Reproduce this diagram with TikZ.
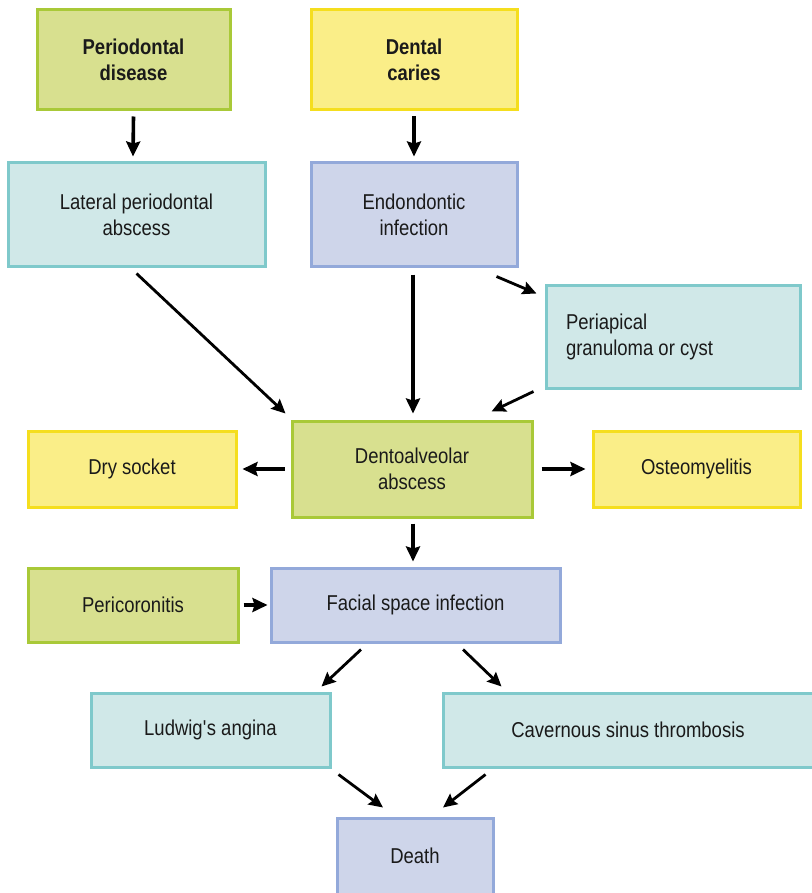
\documentclass[tikz,border=0pt]{standalone}
\usepackage{fontspec}
\setmainfont{Liberation Sans}[FakeStretch=0.86]
\usetikzlibrary{arrows.meta,calc}

\definecolor{grnfill}{HTML}{D8E08F}
\definecolor{grnline}{HTML}{A9C938}
\definecolor{yelfill}{HTML}{FAEE88}
\definecolor{yelline}{HTML}{F5DE1E}
\definecolor{tealfill}{HTML}{D0E8E8}
\definecolor{tealline}{HTML}{7FC9CB}
\definecolor{bluefill}{HTML}{CED5EA}
\definecolor{blueline}{HTML}{93A9DA}
\definecolor{ink}{HTML}{1A1A1A}

\tikzset{
  box/.style={rectangle, line width=3pt, inner sep=0pt, align=center,
    text=ink, font=\fontsize{21.5}{26}\selectfont},
  grnbox/.style={box, draw=grnline, fill=grnfill},
  yelbox/.style={box, draw=yelline, fill=yelfill},
  tealbox/.style={box, draw=tealline, fill=tealfill},
  bluebox/.style={box, draw=blueline, fill=bluefill},
  arr/.style={line width=3.6pt, -{Stealth[length=15pt,width=14pt,inset=2pt]}},
  darr/.style={line width=2.8pt, -{Stealth[length=14pt,width=13pt,inset=2pt]}},
}

\begin{document}
\begin{tikzpicture}[x=1pt,y=-1pt]
\useasboundingbox (0,0) rectangle (811,893);

% sources
\node[grnbox, minimum width=193pt, minimum height=100pt, font=\fontsize{21.5}{26}\selectfont\bfseries]
  (pd) at (133.5,60) {Periodontal\\disease};
\node[yelbox, minimum width=206pt, minimum height=100pt, font=\fontsize{21.5}{26}\selectfont\bfseries]
  (dc) at (414,60) {Dental\\caries};

% first consequences
\node[tealbox, minimum width=257pt, minimum height=103pt] (lat) at (136.5,214.5)
  {Lateral periodontal\\abscess};
\node[bluebox, minimum width=206pt, minimum height=103pt] (endo) at (414,214.5)
  {Endondontic\\infection};
\node[tealbox, minimum width=254pt, minimum height=103pt, text width=214pt,
  inner xsep=20pt, align=left] (peri) at (673,336.5)
  {\spaceskip=0pt\relax Periapical\\granuloma or cyst};

% middle row
\node[grnbox, minimum width=240pt, minimum height=96pt] (dento) at (412,469)
  {Dentoalveolar\\abscess};
\node[yelbox, minimum width=208pt, minimum height=76pt] (dry) at (132,469) {Dry socket};
\node[yelbox, minimum width=207pt, minimum height=76pt] (osteo) at (696.5,469) {Osteomyelitis};

% facial space row
\node[grnbox, minimum width=210pt, minimum height=74pt] (peric) at (133,605) {Pericoronitis};
\node[bluebox, minimum width=289pt, minimum height=74pt] (fac) at (415.5,605) {Facial space infection};

% complications
\node[tealbox, minimum width=239pt, minimum height=74pt] (lud) at (210.5,730) {Ludwig\textquotesingle s angina};
\node[tealbox, minimum width=370pt, minimum height=74pt] (cav) at (628,730) {Cavernous sinus thrombosis};
\node[bluebox, minimum width=156pt, minimum height=76pt] (death) at (415,856) {Death};

% connectors
\draw[arr] ($(pd.south)+(0,5)$) -- ($(lat.north)+(-3.5,-5)$);
\draw[arr] ($(dc.south)+(0,5)$) -- ($(endo.north)+(0,-5)$);
\draw[darr] ($(lat.south)+(0,6)$) -- ($(dento.north west)+(-5,-6)$);
\draw[arr] ($(endo.south)+(-1,7)$) -- ($(dento.north)+(1,-6)$);
\draw[darr] ($(endo.south east)+(-22,9)$) -- ($(peri.north west)+(-8,10)$);
\draw[darr] ($(peri.south west)+(-11,2)$) -- ($(dento.north east)+(-42,-8)$);
\draw[arr] ($(dento.west)+(-6,0)$) -- ($(dry.east)+(5,0)$);
\draw[arr] ($(dento.east)+(8,0)$) -- ($(osteo.west)+(-6,0)$);
\draw[arr] ($(dento.south)+(1,5)$) -- ($(fac.north)+(-2.5,-5)$);
\draw[arr] ($(peric.east)+(4,0)$) -- ($(fac.west)+(-2,0)$);
\draw[darr] ($(fac.south)+(-54.5,6)$) -- ($(lud.north east)+(-10,-5)$);
\draw[darr] ($(fac.south)+(47.5,6)$) -- ($(cav.north west)+(60,-5)$);
\draw[darr] ($(lud.south east)+(7,6)$) -- ($(death.north)+(-32,-9)$);
\draw[darr] ($(cav.south west)+(44,6)$) -- ($(death.north)+(28,-9)$);
\end{tikzpicture}
\end{document}
